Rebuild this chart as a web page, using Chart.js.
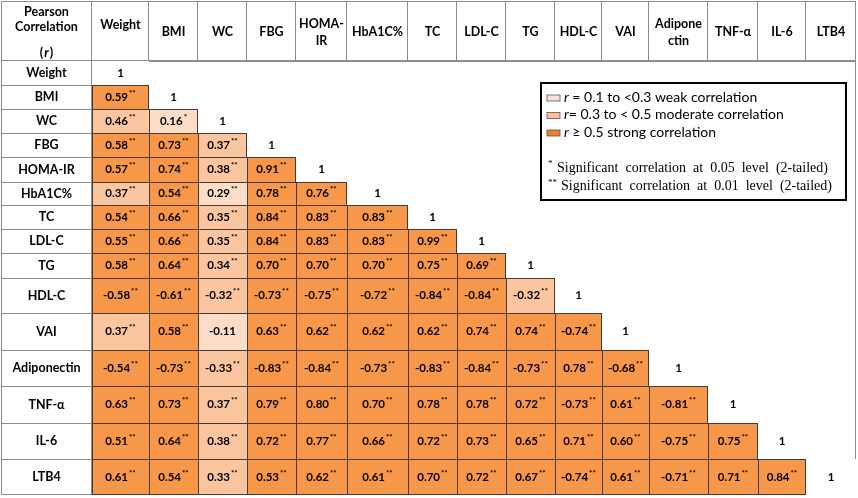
<!DOCTYPE html>
<html>
<head>
<meta charset="utf-8">
<script src="https://cdn.jsdelivr.net/npm/chart.js@4.4.1/dist/chart.umd.min.js"></script>
<style>
  html, body { margin: 0; padding: 0; background: #fff; }
  #wrap { position: relative; width: 858px; height: 498px; }
</style>
</head>
<body>
<div id="wrap"><canvas id="corr"></canvas></div>
<script>
var rowLabels = ['Weight', 'BMI', 'WC', 'FBG', 'HOMA-IR', 'HbA1C%', 'TC', 'LDL-C', 'TG',
                 'HDL-C', 'VAI', 'Adiponectin', 'TNF-\u03b1', 'IL-6', 'LTB4'];
var colHeads = [['Weight'], ['BMI'], ['WC'], ['FBG'], ['HOMA-', 'IR'], ['HbA1C%'], ['TC'], ['LDL-C'],
                ['TG'], ['HDL-C'], ['VAI'], ['Adipone', 'ctin'], ['TNF-\u03b1'], ['IL-6'], ['LTB4']];
var cornerHead = ['Pearson', 'Correlation'];

// lower triangle of Pearson r, row by row (last entry of each row is the diagonal)
var corr = [
    [1],
    [0.59, 1],
    [0.46, 0.16, 1],
    [0.58, 0.73, 0.37, 1],
    [0.57, 0.74, 0.38, 0.91, 1],
    [0.37, 0.54, 0.29, 0.78, 0.76, 1],
    [0.54, 0.66, 0.35, 0.84, 0.83, 0.83, 1],
    [0.55, 0.66, 0.35, 0.84, 0.83, 0.83, 0.99, 1],
    [0.58, 0.64, 0.34, 0.70, 0.70, 0.70, 0.75, 0.69, 1],
    [-0.58, -0.61, -0.32, -0.73, -0.75, -0.72, -0.84, -0.84, -0.32, 1],
    [0.37, 0.58, -0.11, 0.63, 0.62, 0.62, 0.62, 0.74, 0.74, -0.74, 1],
    [-0.54, -0.73, -0.33, -0.83, -0.84, -0.73, -0.83, -0.84, -0.73, 0.78, -0.68, 1],
    [0.63, 0.73, 0.37, 0.79, 0.80, 0.70, 0.78, 0.78, 0.72, -0.73, 0.61, -0.81, 1],
    [0.51, 0.64, 0.38, 0.72, 0.77, 0.66, 0.72, 0.73, 0.65, 0.71, 0.60, -0.75, 0.75, 1],
    [0.61, 0.54, 0.33, 0.53, 0.62, 0.61, 0.70, 0.72, 0.67, -0.74, 0.61, -0.71, 0.71, 0.84, 1]
];
// everything off the diagonal is ** unless listed here ([row, col])
var sigAt05 = [[2, 1]];
var notSig = [[10, 2]];

// layout (px of the table)
var colW = [91, 57, 49, 49, 49, 51, 61, 49, 49, 49, 47, 47, 59, 50, 48, 50];
var headH = 60;
var rowH = [24, 24, 24, 24, 25, 23, 24, 24, 25, 35, 37, 36, 37, 36, 36];

var colStrong = '#F7974A', colModerate = '#FAC59F', colWeak = '#FCDDC7';
var gridGrey = '#8C8C8C', cellLine = '#4A3A30';

var xEdge = [1];
colW.forEach(function(w) { xEdge.push(xEdge[xEdge.length - 1] + w); });
var yEdge = [1, 1 + headH];
rowH.forEach(function(h) { yEdge.push(yEdge[yEdge.length - 1] + h); });
var nRows = rowLabels.length;

function inList(list, i, j) {
    return list.some(function(p) { return p[0] === i && p[1] === j; });
}
function stars(i, j) {
    if (i === j || inList(notSig, i, j)) return '';
    return inList(sigAt05, i, j) ? '*' : '**';
}
function fillFor(v, diag) {
    if (diag) return '#ffffff';
    var a = Math.abs(v);
    if (a >= 0.5) return colStrong;
    if (a >= 0.3) return colModerate;
    return colWeak;
}

var datasets = [];

// outer frame of the table body
datasets.push({
    data: [{x: [xEdge[0], xEdge[xEdge.length - 1]], y: (yEdge[1] + yEdge[yEdge.length - 1]) / 2}],
    barThickness: yEdge[yEdge.length - 1] - yEdge[1],
    backgroundColor: '#ffffff',
    borderColor: gridGrey,
    borderWidth: 1,
    stack: 'table',
    order: 20
});

// header row
var headData = [], headBorder = [];
for (var c = 0; c < colW.length; c++) {
    headData.push({x: [xEdge[c], xEdge[c + 1]], y: (yEdge[0] + yEdge[1]) / 2});
    headBorder.push({top: 1, left: c === 0 ? 1 : 0, right: 1, bottom: 1});
}
datasets.push({
    data: headData,
    barThickness: headH,
    backgroundColor: '#ffffff',
    borderColor: gridGrey,
    borderWidth: headBorder,
    stack: 'table',
    order: 10,
    kind: 'head'
});

// one dataset per body row: label cell + correlation cells
corr.forEach(function(row, i) {
    var yc = (yEdge[i + 1] + yEdge[i + 2]) / 2;
    var data = [{x: [xEdge[0], xEdge[1]], y: yc}];
    var bg = ['#ffffff'];
    var bc = [gridGrey];
    var bw = [{top: i === 0 ? 0 : 1, left: 1, right: 1, bottom: i === nRows - 1 ? 1 : 0}];
    row.forEach(function(v, j) {
        var diag = j === i;
        data.push({x: [xEdge[j + 1], xEdge[j + 2]], y: yc});
        bg.push(fillFor(v, diag));
        bc.push(cellLine);
        bw.push(diag ? 0 : {top: 1, left: 1, right: j === i - 1 ? 1 : 0, bottom: i === nRows - 1 ? 1 : 0});
    });
    datasets.push({
        data: data,
        barThickness: rowH[i],
        backgroundColor: bg,
        borderColor: bc,
        borderWidth: bw,
        stack: 'table',
        order: 1,
        kind: 'row',
        row: i
    });
});

function centerOf(el) {
    return {x: (el.x + el.base) / 2, y: el.y};
}

var tableText = {
    id: 'tableText',
    afterDatasetsDraw: function(chart) {
        var ctx = chart.ctx;
        ctx.save();
        ctx.fillStyle = '#000';
        ctx.textBaseline = 'middle';
        ctx.textAlign = 'center';
        chart.data.datasets.forEach(function(ds, k) {
            var els = chart.getDatasetMeta(k).data;
            if (ds.kind === 'head') {
                ctx.font = 'bold 12.5px Lato';
                var c0 = centerOf(els[0]);
                ctx.fillText(cornerHead[0], c0.x, 12);
                ctx.fillText(cornerHead[1], c0.x, 27);
                ctx.fillText('(', c0.x - 5, 53);
                ctx.fillText(')', c0.x + 5, 53);
                ctx.font = 'italic bold 12.5px Lato';
                ctx.fillText('r', c0.x, 53);
                ctx.font = 'bold 12.5px Lato';
                colHeads.forEach(function(lines, n) {
                    var p = centerOf(els[n + 1]);
                    if (lines.length === 2) {
                        ctx.fillText(lines[0], p.x, p.y - 7);
                        ctx.fillText(lines[1], p.x, p.y + 10);
                    } else {
                        ctx.fillText(lines[0], p.x, n === 0 ? p.y - 6 : p.y + 1);
                    }
                });
            } else if (ds.kind === 'row') {
                var i = ds.row;
                ctx.font = 'bold 12.5px Lato';
                var pl = centerOf(els[0]);
                ctx.textAlign = 'center';
                ctx.fillText(rowLabels[i], pl.x, pl.y);
                corr[i].forEach(function(v, j) {
                    var p = centerOf(els[j + 1]);
                    var txt = j === i ? '1' : v.toFixed(2);
                    var st = stars(i, j);
                    ctx.font = 'bold 11.5px Lato';
                    var w = ctx.measureText(txt).width;
                    ctx.font = 'bold 8px Lato';
                    var ws = st ? ctx.measureText(st).width + 1 : 0;
                    var x0 = p.x - (w + ws) / 2;
                    ctx.textAlign = 'left';
                    ctx.font = 'bold 11.5px Lato';
                    ctx.fillText(txt, x0, p.y);
                    if (st) {
                        ctx.font = 'bold 8px Lato';
                        ctx.fillText(st, x0 + w + 1, p.y - 4);
                    }
                    ctx.textAlign = 'center';
                });
            }
        });
        ctx.restore();
    },
    afterDraw: function(chart) {
        // key box
        var ctx = chart.ctx;
        ctx.save();
        ctx.lineWidth = 2;
        ctx.strokeStyle = '#000';
        ctx.strokeRect(541, 83, 305, 117);
        var keys = [
            {fill: '#FCE2D0', text: ' = 0.1 to <0.3 weak correlation'},
            {fill: '#FBC09A', text: '= 0.3 to < 0.5 moderate correlation'},
            {fill: '#F47C2C', text: ' \u2265 0.5 strong correlation'}
        ];
        ctx.textBaseline = 'middle';
        ctx.textAlign = 'left';
        keys.forEach(function(k, n) {
            var y = 97 + n * 17.5;
            ctx.fillStyle = k.fill;
            ctx.fillRect(547, y - 2, 13, 6);
            ctx.lineWidth = 0.8;
            ctx.strokeStyle = '#555';
            ctx.strokeRect(547, y - 2, 13, 6);
            ctx.fillStyle = '#000';
            ctx.font = 'italic 14px Lato';
            ctx.fillText('r', 564, y);
            var rw = ctx.measureText('r').width;
            ctx.font = '14px Lato';
            ctx.fillText(k.text, 564 + rw, y);
        });
        var notes = [['*', 'Significant  correlation  at  0.05  level  (2-tailed)'],
                     ['**', 'Significant  correlation  at  0.01  level  (2-tailed)']];
        notes.forEach(function(nt, n) {
            var y = 168 + n * 18.5;
            ctx.font = '9px "Liberation Serif"';
            ctx.fillText(nt[0], 548, y - 4);
            ctx.font = '14px "Liberation Serif"';
            ctx.fillText(nt[1], n === 0 ? 557 : 561, y);
        });
        ctx.restore();
    }
};

new Chart(document.getElementById('corr'), {
    type: 'bar',
    data: {datasets: datasets},
    options: {
        indexAxis: 'y',
        responsive: true,
        maintainAspectRatio: false,
        animation: false,
        events: [],
        layout: {padding: 0},
        datasets: {
            bar: {
                borderSkipped: false,
                inflateAmount: 0
            }
        },
        plugins: {
            legend: {display: false},
            tooltip: {enabled: false}
        },
        scales: {
            x: {type: 'linear', min: 0, max: 858, display: false, stacked: false},
            y: {type: 'linear', min: 0, max: 498, reverse: true, offset: false, display: false}
        }
    },
    plugins: [tableText]
});
</script>
</body>
</html>
